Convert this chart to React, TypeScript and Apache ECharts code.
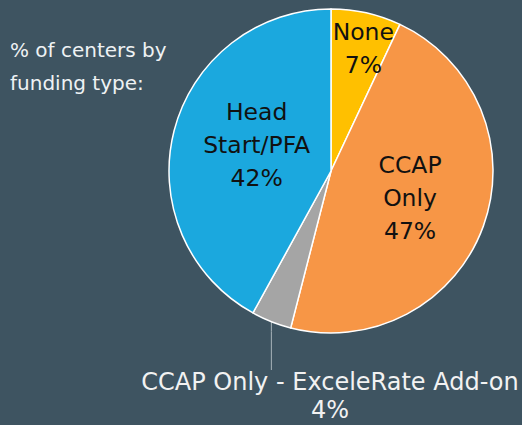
import React, { useEffect, useRef } from "react";
import * as echarts from "echarts";

const categories = ["None", "CCAP Only", "CCAP Only - ExceleRate Add-on", "Head Start/PFA"];
const labelTexts = ["None\n7%", "CCAP\nOnly\n47%", "CCAP Only - ExceleRate Add-on\n4%", "Head\nStart/PFA\n42%"];
const values = [7, 47, 4, 42];
const colors = ["#FFC000", "#F79646", "#A5A5A5", "#1BA8DE"];
const titleLines = ["% of centers by", "funding type:"];

const FONT = "'DejaVu Sans', sans-serif";

export default function App() {
  const ref = useRef<HTMLDivElement>(null);
  useEffect(() => {
    document.body.style.margin = "0";
    const chart = echarts.init(ref.current!, null, { renderer: "svg" });
    const data = categories.map((name, i) => {
      const outside = i === 2;
      return {
        name,
        value: values[i],
        itemStyle: { color: colors[i] },
        label: outside
          ? {
              show: true,
              position: "outside",
              formatter: labelTexts[i],
              color: "#F2F2F2",
              fontSize: 24,
              lineHeight: 28,
              fontFamily: FONT,
              align: "center",
              width: 520,
              overflow: "none",
            }
          : {
              show: true,
              position: "inside",
              formatter: labelTexts[i],
              color: "#111111",
              fontSize: 23.5,
              lineHeight: 33,
              fontFamily: FONT,
              align: "center",
            },
        labelLine: outside
          ? { show: true, length: 10, length2: 10, lineStyle: { color: "#A9B4BA", width: 1 } }
          : { show: false },
      };
    });
    chart.setOption({
      animation: false,
      backgroundColor: "#3E5461",
      title: {
        text: titleLines.join("\n"),
        left: 5,
        top: 28,
        textStyle: { color: "#EEF2F4", fontSize: 20, fontWeight: "normal", lineHeight: 33, fontFamily: FONT },
      },
      series: [
        {
          type: "pie",
          center: [331, 171],
          radius: 162,
          startAngle: 90,
          clockwise: true,
          data,
          itemStyle: { borderColor: "#FFFFFF", borderWidth: 1.5 },
          emphasis: { disabled: true },
          labelLayout: (params: any) => {
            if (params.dataIndex === 0) return { dx: 14, dy: -41 };
            if (params.dataIndex === 1) return { dx: 0, dy: -1 };
            if (params.dataIndex === 3) return { dx: 7, dy: -5 };
            if (params.dataIndex === 2) {
              const pts = params.labelLinePoints;
              const p0 = pts ? pts[0] : [272, 322];
              return {
                x: 330,
                y: 396,
                align: "center",
                verticalAlign: "middle",
                labelLinePoints: [p0, [p0[0], p0[1] + 10], [p0[0], 370]],
              };
            }
            return {};
          },
        },
      ],
    });
    return () => chart.dispose();
  }, []);
  return <div ref={ref} style={{ width: 522, height: 425 }} />;
}
